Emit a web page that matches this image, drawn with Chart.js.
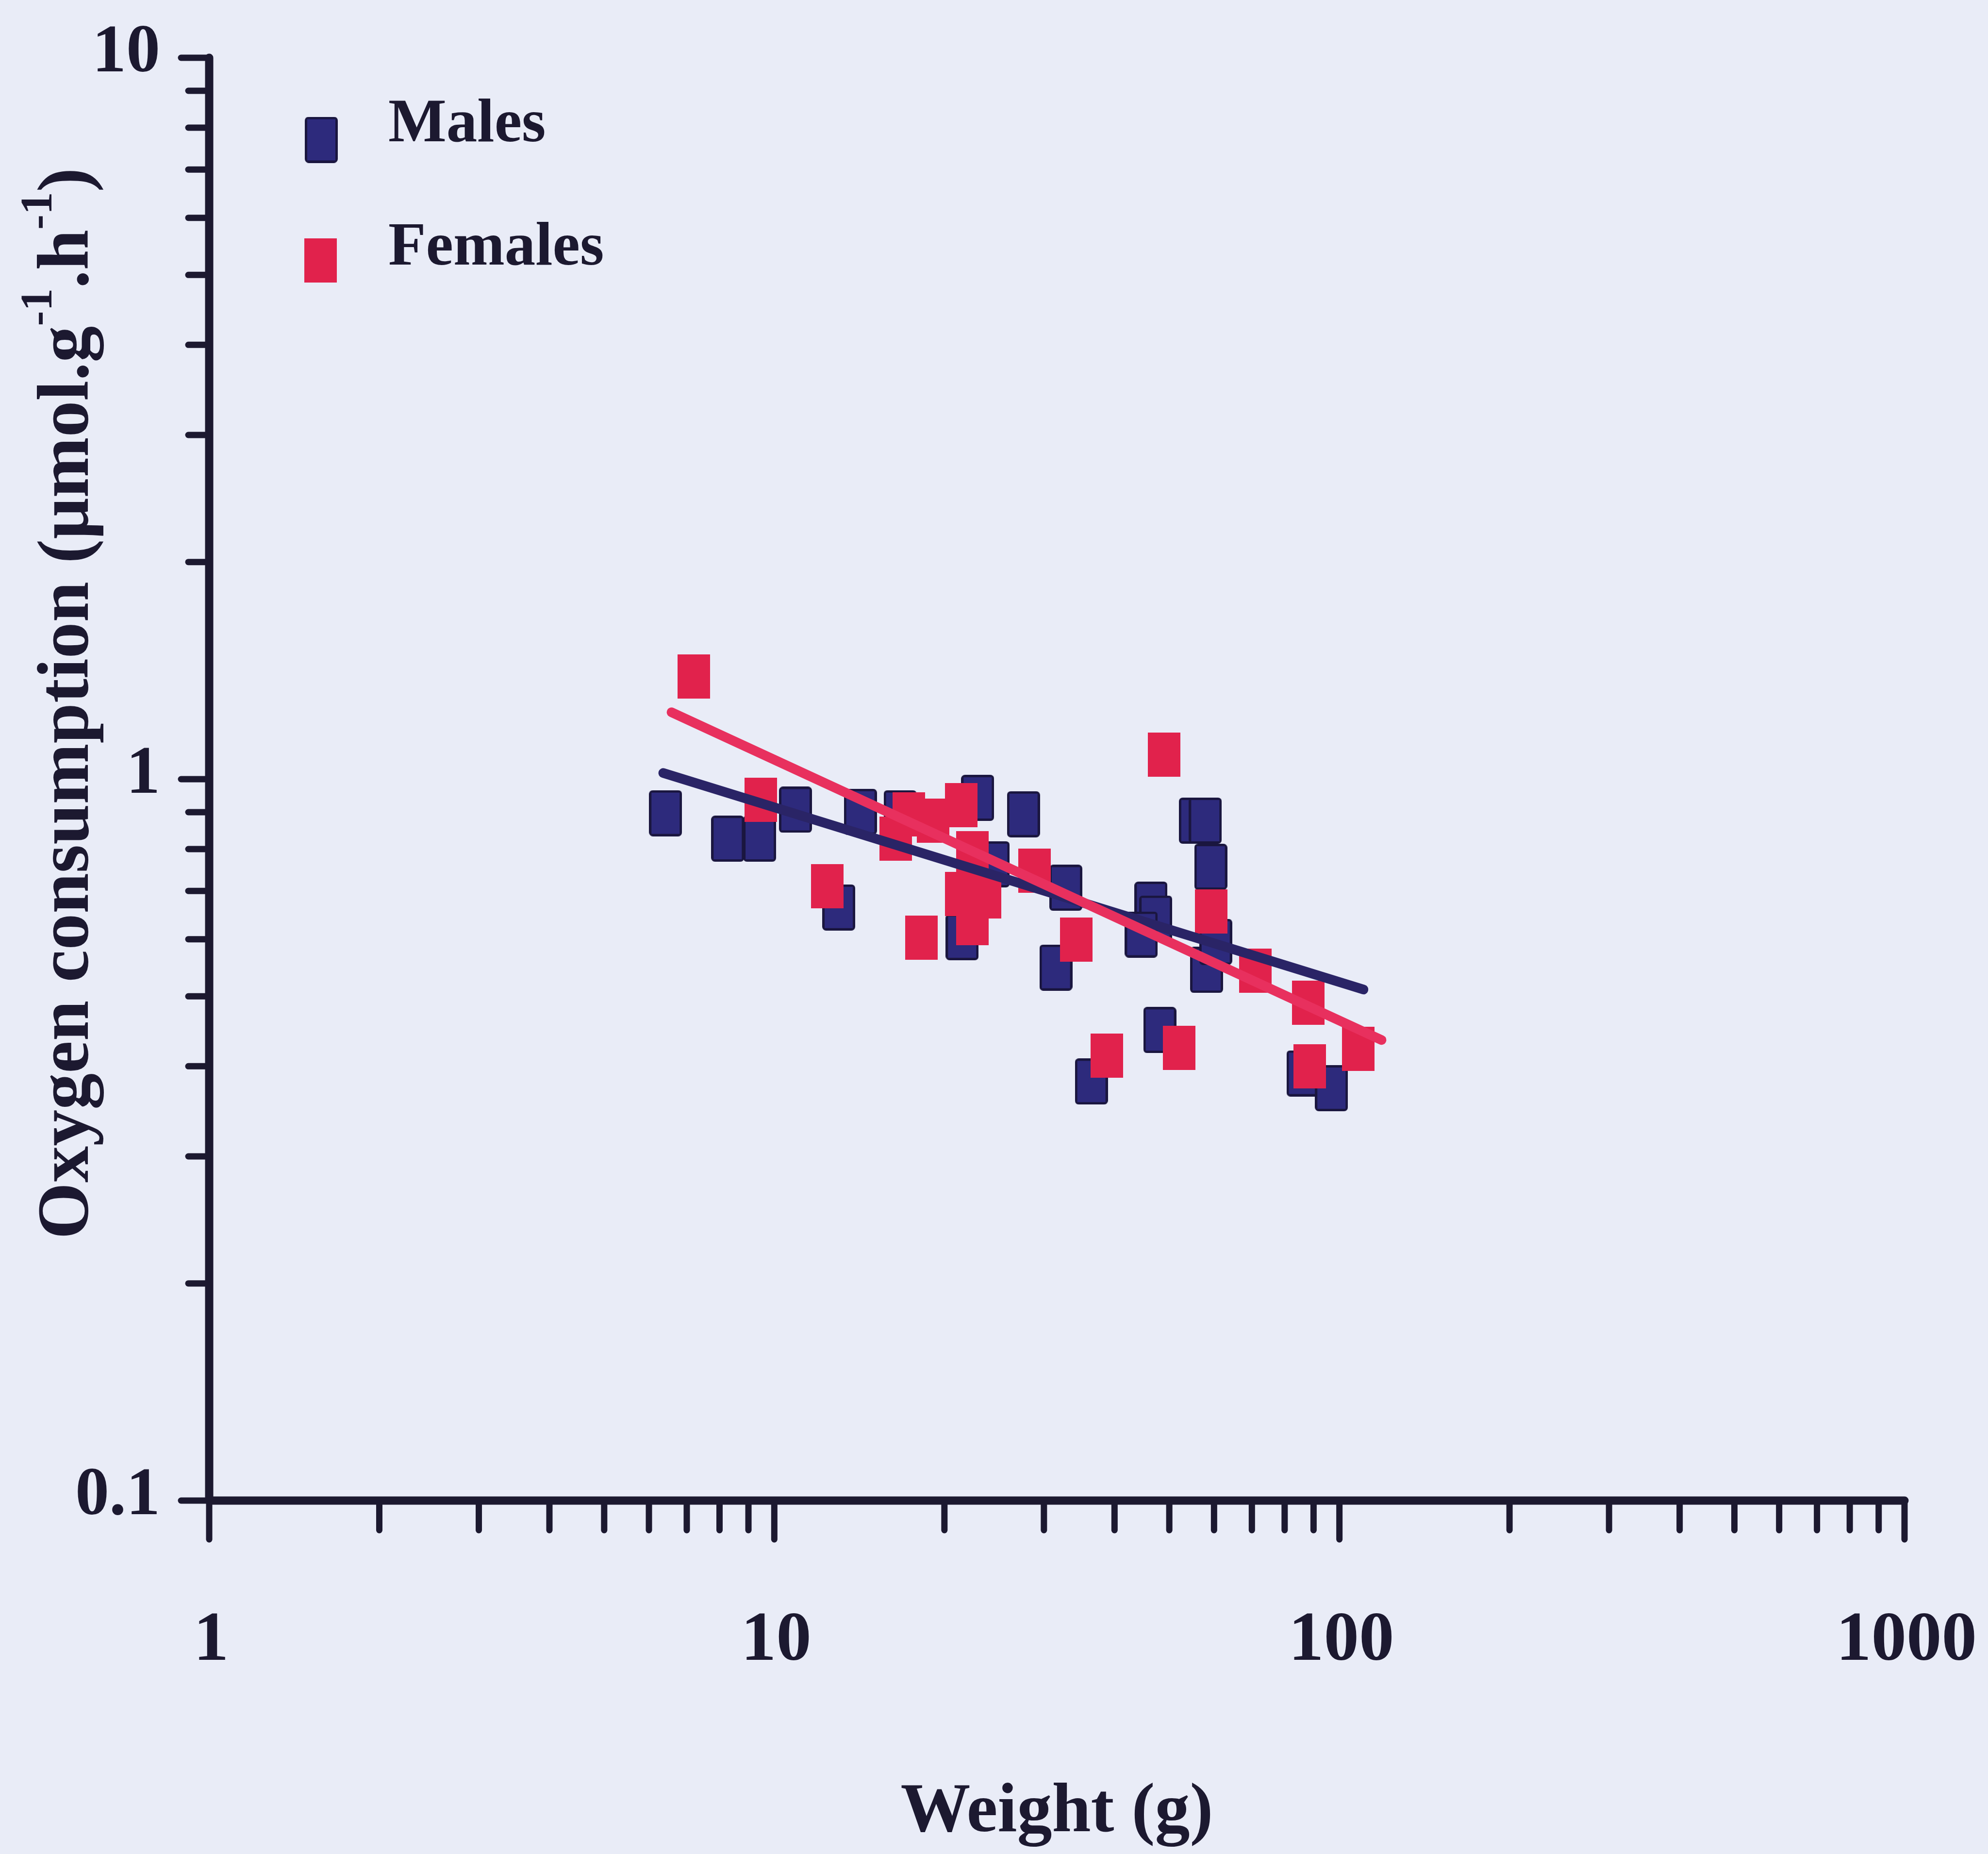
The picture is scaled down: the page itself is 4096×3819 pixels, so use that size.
<!DOCTYPE html>
<html>
<head>
<meta charset="utf-8">
<script src="https://cdn.jsdelivr.net/npm/chart.js@4.4.1/dist/chart.umd.min.js"></script>
<style>
  html, body { margin: 0; padding: 0; background: #e9ecf7; }
  canvas { display: block; }
</style>
</head>
<body>
<canvas id="chart" width="4096" height="3819"></canvas>
<script>
// Body weight (g) and oxygen consumption (µmol.g-1.h-1) per animal
const malesWeight   = [6.42, 8.27, 9.42, 10.9, 13.0, 14.2, 16.7, 21.5, 22.9, 27.6, 24.4, 32.8, 31.5,
                       46.4, 47.3, 44.6, 55.6, 57.9, 59.2, 58.2, 60.4, 86.2, 96.8, 48.1, 36.4];
const malesO2       = [0.897, 0.827, 0.827, 0.907, 0.664, 0.901, 0.897, 0.604, 0.942, 0.894, 0.762, 0.707, 0.548,
                       0.670, 0.641, 0.609, 0.876, 0.876, 0.756, 0.544, 0.595, 0.391, 0.373, 0.449, 0.381];
const femalesWeight = [7.20, 9.46, 12.4, 16.4, 17.3, 19.1, 21.4, 22.4, 21.4, 23.6, 22.4, 18.2, 28.9,
                       34.2, 49.0, 59.3, 71.0, 88.1, 108, 88.6, 52.0, 38.8];
const femalesO2     = [1.388, 0.936, 0.711, 0.827, 0.894, 0.876, 0.920, 0.790, 0.693, 0.688, 0.632, 0.603, 0.747,
                       0.599, 1.081, 0.656, 0.543, 0.490, 0.423, 0.400, 0.424, 0.414];

// Fitted allometric lines (end points)
const maleFitWeight   = [6.36, 110.3];
const maleFitO2       = [1.02, 0.511];
const femaleFitWeight = [6.58, 118.7];
const femaleFitO2     = [1.238, 0.435];

// Axis ranges and labels
const xRange = [1, 1000];
const yRange = [0.1, 10];
const xTickLabels = ['1', '10', '100', '1000'];
const yTickLabels = ['0.1', '1', '10'];
const seriesNames = ['Males', 'Females'];
const xTitle = 'Weight (g)';
const yTitleParts = [
  { text: 'Oxygen consumption (\u03bcmol.g' },
  { text: '-1', sup: true },
  { text: '.h' },
  { text: '-1', sup: true },
  { text: ')' }
];

const INK = '#1c1930';
const NAVY = '#2d2a7c';
const NAVY_EDGE = '#1a163f';
const NAVY_LINE = '#2a2466';
const RED = '#e1224c';
const RED_LINE = '#e8305e';
const FONT = '"Liberation Serif", "Times New Roman", serif';

function makeMarker(w, h, fill, edge, edgeW) {
  const c = document.createElement('canvas');
  c.width = w; c.height = h;
  const g = c.getContext('2d');
  if (edge) {
    g.fillStyle = edge;
    g.beginPath();
    g.roundRect(0, 0, w, h, 8);
    g.fill();
    g.fillStyle = fill;
    g.fillRect(edgeW, edgeW, w - 2 * edgeW, h - 2 * edgeW);
  } else {
    g.fillStyle = fill;
    g.fillRect(0, 0, w, h);
  }
  return c;
}

const maleMarker = makeMarker(68, 95, NAVY, NAVY_EDGE, 5);
const femaleMarker = makeMarker(67, 91, RED, null, 0);

const toPoints = (xs, ys) => xs.map((x, i) => ({ x: x, y: ys[i] }));
const isDecade = v => Math.abs(Math.log10(v) - Math.round(Math.log10(v))) < 1e-9;

function logTickValues(min, max) {
  const vals = [];
  for (let e = Math.round(Math.log10(min)); e <= Math.round(Math.log10(max)); e++) {
    for (let k = 1; k <= 9; k++) {
      const v = k * Math.pow(10, e);
      if (v >= min * 0.999 && v <= max * 1.001) vals.push(v);
    }
  }
  return vals;
}

// Axis lines with inside-out tick marks, minor ticks shorter than the decades
const axesPlugin = {
  id: 'logAxes',
  beforeDatasetsDraw(chart) {
    const { ctx } = chart;
    const xs = chart.scales.x, ys = chart.scales.y;
    const ax = xs.getPixelForValue(xRange[0]);
    const ay = ys.getPixelForValue(yRange[0]);
    ctx.save();
    ctx.strokeStyle = INK;
    ctx.lineCap = 'round';

    // ticks
    ctx.lineWidth = 13;
    logTickValues(xRange[0], xRange[1]).forEach(v => {
      const px = xs.getPixelForValue(v);
      const len = isDecade(v) ? 80 : 61;
      ctx.beginPath(); ctx.moveTo(px, ay); ctx.lineTo(px, ay + len); ctx.stroke();
    });
    logTickValues(yRange[0], yRange[1]).forEach(v => {
      const py = ys.getPixelForValue(v);
      const len = isDecade(v) ? 58 : 43;
      ctx.beginPath(); ctx.moveTo(ax, py); ctx.lineTo(ax - len, py); ctx.stroke();
    });

    // axis lines
    ctx.lineWidth = 17;
    ctx.beginPath();
    ctx.moveTo(ax, ys.getPixelForValue(yRange[1]));
    ctx.lineTo(ax, ay);
    ctx.stroke();
    ctx.beginPath();
    ctx.moveTo(ax, ay);
    ctx.lineTo(xs.getPixelForValue(xRange[1]), ay);
    ctx.stroke();
    ctx.restore();
  }
};

function drawRuns(ctx, parts, size) {
  const supSize = size * 0.62;
  const widthOf = p => {
    ctx.font = 'bold ' + (p.sup ? supSize : size) + 'px ' + FONT;
    return ctx.measureText(p.text).width;
  };
  const total = parts.reduce((s, p) => s + widthOf(p), 0);
  let cx = -total / 2;
  parts.forEach(p => {
    ctx.font = 'bold ' + (p.sup ? supSize : size) + 'px ' + FONT;
    ctx.fillText(p.text, cx, p.sup ? -size * 0.5 : 0);
    cx += ctx.measureText(p.text).width;
  });
}

// Tick labels, axis titles and the legend
const textPlugin = {
  id: 'labels',
  afterDraw(chart) {
    const { ctx } = chart;
    const xs = chart.scales.x, ys = chart.scales.y;
    const ax = xs.getPixelForValue(xRange[0]);
    const ay = ys.getPixelForValue(yRange[0]);
    ctx.save();
    ctx.fillStyle = INK;
    ctx.textBaseline = 'alphabetic';

    ctx.font = 'bold 145px ' + FONT;
    ctx.textAlign = 'center';
    xTickLabels.forEach(t => {
      ctx.fillText(t, xs.getPixelForValue(Number(t)) + 4, ay + 328);
    });

    ctx.font = 'bold 140px ' + FONT;
    ctx.textAlign = 'right';
    yTickLabels.forEach(t => {
      ctx.fillText(t, ax - 101, ys.getPixelForValue(Number(t)) + 28);
    });

    // x title
    ctx.font = 'bold 144px ' + FONT;
    ctx.textAlign = 'center';
    ctx.fillText(xTitle, (xs.left + xs.right) / 2, 3772);

    // y title, rotated
    ctx.save();
    ctx.translate(181, 1449);
    ctx.rotate(-Math.PI / 2);
    ctx.textAlign = 'left';
    drawRuns(ctx, yTitleParts, 150);
    ctx.restore();

    // legend
    const legend = [
      { name: seriesNames[0], marker: maleMarker, cx: 662, cy: 288, base: 291 },
      { name: seriesNames[1], marker: femaleMarker, cx: 660, cy: 536, base: 545 }
    ];
    ctx.font = 'bold 127px ' + FONT;
    ctx.textAlign = 'left';
    legend.forEach(l => {
      ctx.drawImage(l.marker, l.cx - l.marker.width / 2, l.cy - l.marker.height / 2);
      ctx.fillText(l.name, 800, l.base);
    });
    ctx.restore();
  }
};

new Chart(document.getElementById('chart'), {
  type: 'scatter',
  data: {
    datasets: [
      {
        label: seriesNames[1] + ' fit',
        data: toPoints(femaleFitWeight, femaleFitO2),
        showLine: true, borderColor: RED_LINE, borderWidth: 20, borderCapStyle: 'round',
        pointRadius: 0, order: 0
      },
      {
        label: seriesNames[0] + ' fit',
        data: toPoints(maleFitWeight, maleFitO2),
        showLine: true, borderColor: NAVY_LINE, borderWidth: 20, borderCapStyle: 'round',
        pointRadius: 0, order: 1
      },
      {
        label: seriesNames[1],
        data: toPoints(femalesWeight, femalesO2),
        pointStyle: femaleMarker, pointRadius: 40, order: 2
      },
      {
        label: seriesNames[0],
        data: toPoints(malesWeight, malesO2),
        pointStyle: maleMarker, pointRadius: 40, order: 3
      }
    ]
  },
  options: {
    responsive: false,
    animation: false,
    devicePixelRatio: 1,
    events: [],
    layout: { padding: { left: 431, right: 172, top: 119, bottom: 728 } },
    scales: {
      x: { type: 'logarithmic', min: xRange[0], max: xRange[1], display: false },
      y: { type: 'logarithmic', min: yRange[0], max: yRange[1], display: false }
    },
    plugins: { legend: { display: false }, tooltip: { enabled: false } }
  },
  plugins: [axesPlugin, textPlugin]
});
</script>
</body>
</html>
